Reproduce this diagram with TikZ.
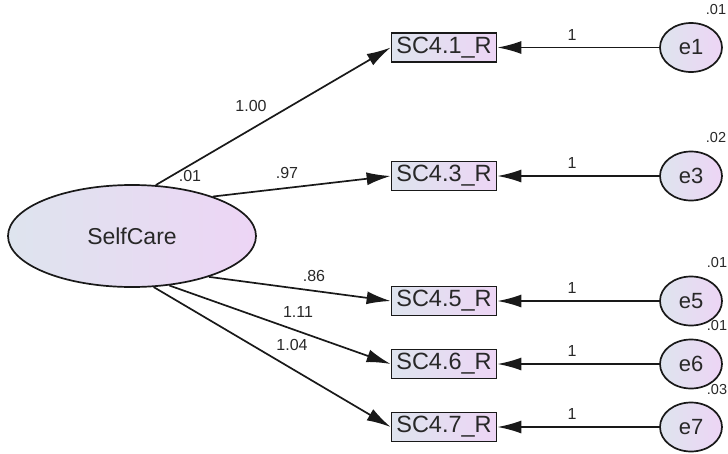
\documentclass[tikz,border=0pt]{standalone}
\usepackage{fontspec}
\setmainfont{Liberation Sans}
\usetikzlibrary{arrows.meta,shapes.geometric}

\definecolor{fillL}{RGB}{222,228,238}
\definecolor{fillR}{RGB}{237,213,245}
\definecolor{edge}{RGB}{25,25,25}
\definecolor{txt}{RGB}{40,40,40}

\tikzset{
  latent/.style={ellipse, draw=edge, line width=1.7pt, left color=fillL, right color=fillR,
    minimum width=248pt, minimum height=102pt, inner sep=0pt,
    font=\fontsize{23}{25}\selectfont, text=txt},
  obs/.style={rectangle, draw=edge, line width=1.7pt, left color=fillL, right color=fillR,
    minimum width=105pt, minimum height=29pt, inner sep=0pt,
    font=\fontsize{23.5}{25}\selectfont, text=txt},
  err/.style={ellipse, draw=edge, line width=1.7pt, left color=fillL, right color=fillR,
    minimum width=62pt, minimum height=49pt, inner sep=0pt,
    font=\fontsize{22}{24}\selectfont, text=txt},
  coef/.style={inner sep=0pt, font=\fontsize{16}{18}\selectfont, text=txt},
  varlab/.style={inner sep=0pt, font=\fontsize{14.5}{16}\selectfont, text=txt},
  path/.style={draw=edge, line width=1.7pt, -{Latex[length=24pt,width=13pt]}}
}

\begin{document}
\begin{tikzpicture}[x=1pt,y=-1pt]
\useasboundingbox (0,0) rectangle (728,453);

% latent factor
\node[latent] (sc) at (132,236) {SelfCare};
\node[coef] (scv) at (190,176) {.01};

% indicators
\node[obs] (b1) at (444,47.5) {SC4.1\_R};
\node[obs] (b3) at (444,176) {SC4.3\_R};
\node[obs] (b5) at (444,301) {SC4.5\_R};
\node[obs] (b6) at (444,364) {SC4.6\_R};
\node[obs] (b7) at (444,427) {SC4.7\_R};

% error terms, each on the row of its indicator
\node[err] (e1) at (691,47.5) {e1};
\node[err] (e3) at (691,176) {e3};
\node[err] (e5) at (691,301) {e5};
\node[err] (e6) at (691,364) {e6};
\node[err] (e7) at (691,427) {e7};

% error variances
\node[varlab] (v1) at (716,10) {.01};
\node[varlab] (v3) at (716,138) {.02};
\node[varlab] (v5) at (717,263) {.01};
\node[varlab] (v6) at (717,326) {.01};
\node[varlab] (v7) at (717,390) {.03};

% loadings
\draw[path] (sc.65) -- (b1.west);
\draw[path] (sc.26) -- (b3.west);
\draw[path] (sc.-28) -- (b5.west);
\draw[path] (sc.-53) -- (b6.west);
\draw[path] (sc.-67) -- (b7.west);

\node[coef] (l1) at (251,106) {1.00};
\node[coef] (l3) at (287,173) {.97};
\node[coef] (l5) at (314,276) {.86};
\node[coef] (l6) at (298,312) {1.11};
\node[coef] (l7) at (292,345) {1.04};

% error paths
\draw[path] (e1.west) -- (b1.east);
\draw[path] (e3.west) -- (b3.east);
\draw[path] (e5.west) -- (b5.east);
\draw[path] (e6.west) -- (b6.east);
\draw[path] (e7.west) -- (b7.east);

\node[coef] (w1) at (572,35) {1};
\node[coef] (w3) at (572,163) {1};
\node[coef] (w5) at (572,288) {1};
\node[coef] (w6) at (572,351) {1};
\node[coef] (w7) at (572,414) {1};
\end{tikzpicture}
\end{document}
